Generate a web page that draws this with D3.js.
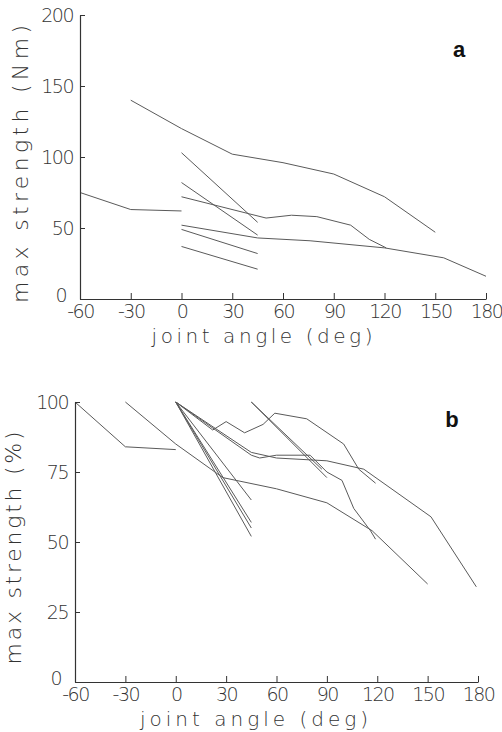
<!DOCTYPE html>
<html>
<head>
<meta charset="utf-8">
<script src="https://cdn.jsdelivr.net/npm/d3@7"></script>
<style>
body { margin: 0; background: #fff; }
svg text { font-family: "DejaVu Sans", sans-serif; font-weight: 200; fill: #333; }
</style>
</head>
<body>
<svg id="chart" width="502" height="732"></svg>
<script>
let angleTicks = [-60, -30, 0, 30, 60, 90, 120, 150, 180]
let nmTicks = [0, 50, 100, 150, 200]
let pctTicks = [0, 25, 50, 75, 100]

// panel a: [joint angle (deg), max strength (Nm)]
let a1 = [[-30, 140], [0, 120], [30, 102], [60, 96], [90, 88], [120, 72], [150, 47]]
let a2 = [[-60, 75], [-30, 63], [0, 62]]
let a3 = [[0, 103], [45, 54]]
let a4 = [[0, 82], [45, 45]]
let a5 = [[0, 72], [40, 60], [50, 57], [65, 59], [80, 58], [100, 52], [111, 42], [121, 36]]
let a6 = [[0, 52], [45, 43], [76, 41], [120, 36], [155, 29], [180, 16]]
let a7 = [[0, 49], [45, 32]]
let a8 = [[0, 37], [45, 21]]

// panel b: [joint angle (deg), max strength (%)]
let b1 = [[-60, 100], [-30, 84], [0, 83]]
let b2 = [[-30, 100], [0, 85], [28, 73], [60, 69], [90, 64], [117, 54], [150, 35]]
let b3 = [[0, 100], [45, 65]]
let b4 = [[0, 100], [45, 57]]
let b5 = [[0, 100], [45, 55]]
let b6 = [[0, 100], [45, 52]]
let b7 = [[0, 100], [22, 90], [30, 93], [41, 89], [52, 92], [59, 96], [78, 94], [100, 85], [109, 76], [119, 71]]
let b8 = [[0, 100], [45, 81], [50, 80], [60, 81], [80, 81], [90, 75], [99, 72], [106, 62], [116, 54], [119, 51]]
let b9 = [[0, 100], [45, 82], [60, 80], [90, 79], [112, 76], [152, 59], [179, 34]]
let b10 = [[45, 100], [90, 73]]
let b11 = [[45, 100], [87, 76]]

let svg = d3.select('#chart')

let drawPanel = (curves, yTicks, yMax, xRange, yRange) => {
    let x = d3.scaleLinear().domain([-60, 180]).range(xRange)
    let y = d3.scaleLinear().domain([0, yMax]).range(yRange)
    let g = svg.append('g')

    let line = d3.line()
        .x(d => x(d[0]))
        .y(d => y(d[1]))

    g.selectAll('path.curve')
        .data(curves)
        .enter()
        .append('path')
        .attr('class', 'curve')
        .attr('d', line)
        .attr('fill', 'none')
        .attr('stroke', '#5a5a5a')
        .attr('stroke-width', 1)

    let xAxis = d3.axisBottom(x)
        .tickValues(angleTicks)
        .tickFormat(d => String(d))
        .tickSizeInner(-6)
        .tickSizeOuter(0)
        .tickPadding(6)

    let yAxis = d3.axisLeft(y)
        .tickValues(yTicks)
        .tickFormat(d => String(d))
        .tickSizeInner(-5)
        .tickSizeOuter(0)
        .tickPadding(7)

    let gx = g.append('g')
        .attr('transform', 'translate(0,' + yRange[0] + ')')
        .call(xAxis)
    let gy = g.append('g')
        .attr('transform', 'translate(' + xRange[0] + ',0)')
        .call(yAxis)

    for (let ax of [gx, gy]) {
        ax.select('.domain').attr('stroke', '#333').attr('stroke-width', 1.2)
        ax.selectAll('.tick line').attr('stroke', '#333')
        ax.selectAll('.tick text')
            .style('font-size', '19px')
            .style('letter-spacing', '-1.5px')
    }
    // the zero of the y axis sits up and left of the -60 label
    gy.selectAll('.tick text')
        .filter(d => d === 0)
        .attr('x', -14)
        .attr('dy', '0.15em')
    return g
}

let ga = drawPanel([a1, a2, a3, a4, a5, a6, a7, a8], nmTicks, 200, [80, 486], [299, 15])
let gb = drawPanel([b1, b2, b3, b4, b5, b6, b7, b8, b9, b10, b11], pctTicks, 100, [75, 478], [682, 402])

let title = (g, txt, px, py, len, rot) => {
    g.append('text')
        .attr('transform', 'translate(' + px + ',' + py + ')' + (rot ? ' rotate(-90)' : ''))
        .attr('text-anchor', 'middle')
        .attr('textLength', len)
        .attr('lengthAdjust', 'spacing')
        .style('font-size', rot ? '22px' : '20px')
        .text(txt)
}

title(ga, 'max strength (Nm)', 28, 164, 278, true)
title(ga, 'joint angle (deg)', 262, 343, 221, false)
title(gb, 'max strength (%)', 21, 548, 233, true)
title(gb, 'joint angle (deg)', 254, 726, 228, false)

let letter = (g, txt, px, py) => {
    g.append('text')
        .attr('x', px)
        .attr('y', py)
        .attr('text-anchor', 'middle')
        .style('font-family', '"Liberation Sans", Arial, sans-serif')
        .style('font-weight', 'bold')
        .style('font-size', '22px')
        .style('fill', '#111')
        .text(txt)
}

letter(ga, 'a', 459, 57)
letter(gb, 'b', 452, 427)
</script>
</body>
</html>
